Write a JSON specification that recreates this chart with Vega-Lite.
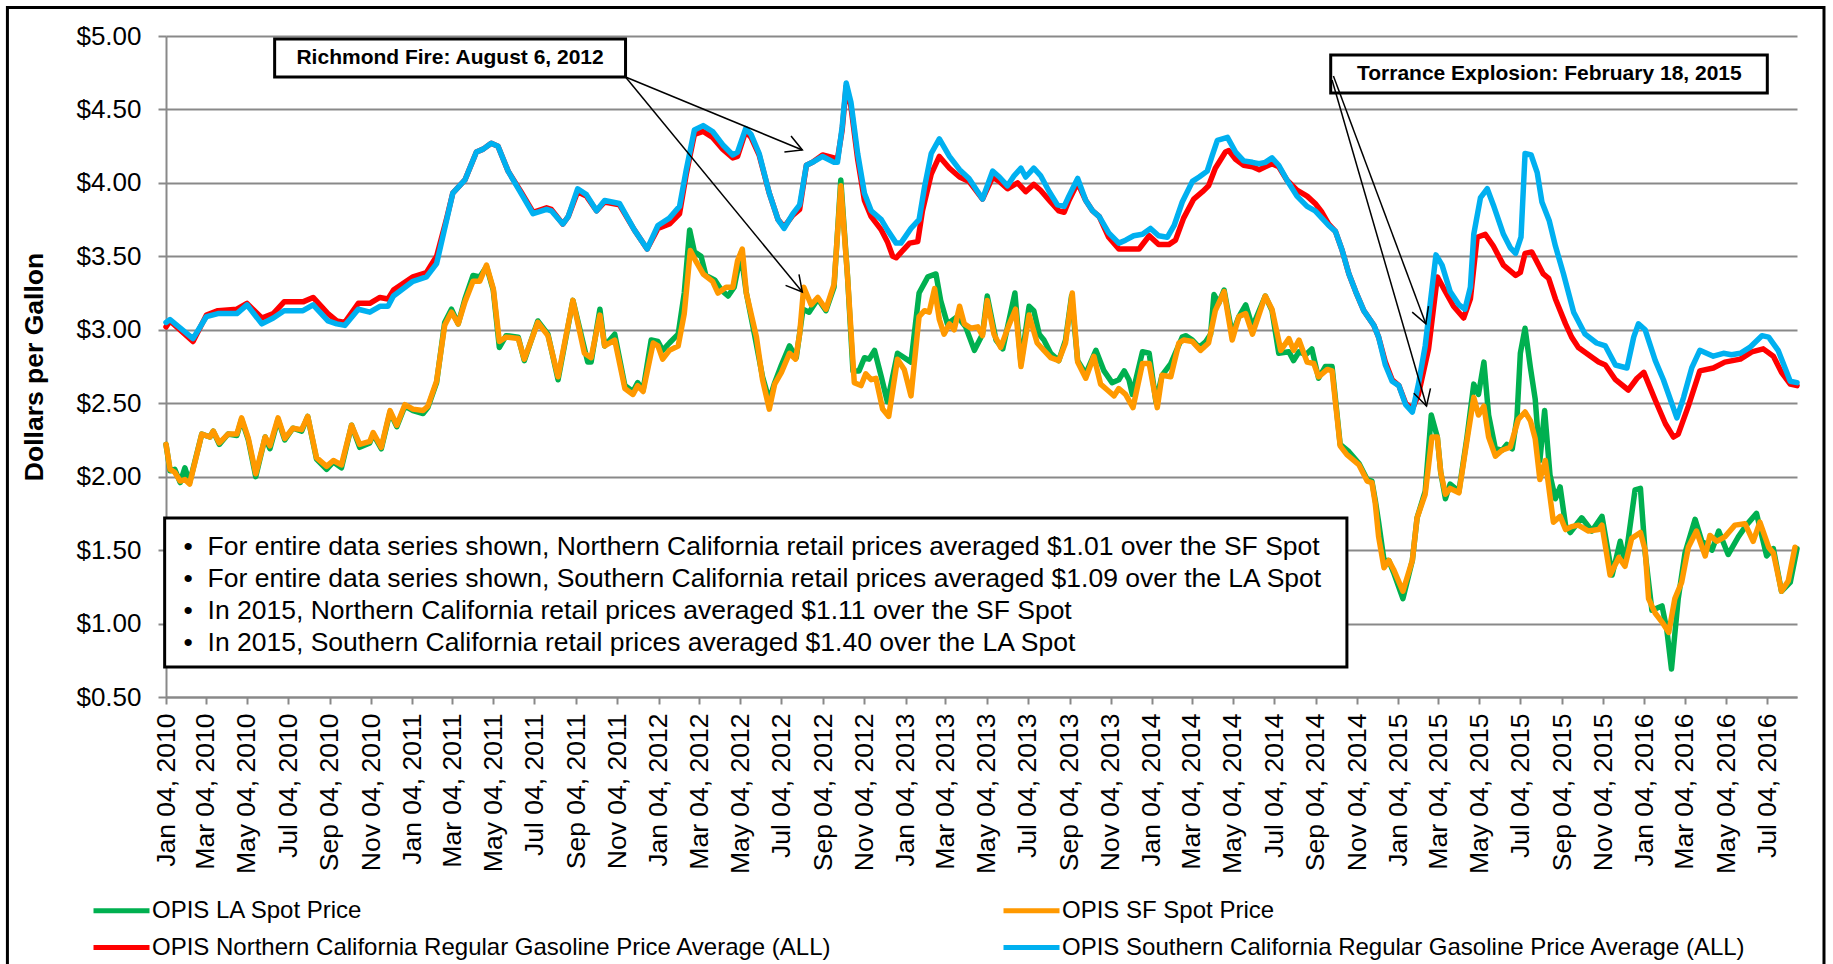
{
"$schema": "https://vega.github.io/schema/vega-lite/v6.json",
"width": 1631,
"height": 661,
"autosize": {"type": "none"},
"padding": {"left": 166, "top": 36, "right": 36, "bottom": 267},
"background": "white",
"config": {"view": {"stroke": null}, "font": "Liberation Sans"},
"datasets": {
"la": [
{"d":"2010-01-04","v":2.22},{"d":"2010-01-10","v":2.04},{"d":"2010-01-17","v":2.05},{"d":"2010-01-25","v":1.96},{"d":"2010-02-01","v":2.06},{"d":"2010-02-08","v":1.96},{"d":"2010-02-26","v":2.29},{"d":"2010-03-10","v":2.27},{"d":"2010-03-15","v":2.31},{"d":"2010-03-24","v":2.22},{"d":"2010-04-06","v":2.29},{"d":"2010-04-19","v":2.28},{"d":"2010-04-26","v":2.39},{"d":"2010-05-06","v":2.25},{"d":"2010-05-17","v":2.00},{"d":"2010-05-31","v":2.27},{"d":"2010-06-07","v":2.19},{"d":"2010-06-19","v":2.39},{"d":"2010-06-29","v":2.25},{"d":"2010-07-11","v":2.33},{"d":"2010-07-24","v":2.31},{"d":"2010-08-02","v":2.41},{"d":"2010-08-15","v":2.12},{"d":"2010-08-30","v":2.05},{"d":"2010-09-09","v":2.10},{"d":"2010-09-21","v":2.06},{"d":"2010-10-06","v":2.35},{"d":"2010-10-18","v":2.20},{"d":"2010-11-02","v":2.23},{"d":"2010-11-07","v":2.29},{"d":"2010-11-19","v":2.19},{"d":"2010-12-02","v":2.44},{"d":"2010-12-12","v":2.34},{"d":"2010-12-24","v":2.48},
{"d":"2011-01-05","v":2.45},{"d":"2011-01-20","v":2.43},{"d":"2011-01-27","v":2.47},{"d":"2011-02-09","v":2.64},{"d":"2011-02-21","v":3.05},{"d":"2011-03-03","v":3.14},{"d":"2011-03-13","v":3.04},{"d":"2011-03-23","v":3.21},{"d":"2011-04-04","v":3.37},{"d":"2011-04-14","v":3.36},{"d":"2011-04-24","v":3.43},{"d":"2011-05-04","v":3.27},{"d":"2011-05-13","v":2.88},{"d":"2011-05-23","v":2.96},{"d":"2011-06-10","v":2.95},{"d":"2011-06-19","v":2.79},{"d":"2011-07-09","v":3.06},{"d":"2011-07-24","v":2.97},{"d":"2011-08-08","v":2.66},{"d":"2011-08-30","v":3.20},{"d":"2011-09-21","v":2.78},{"d":"2011-09-26","v":2.78},{"d":"2011-10-09","v":3.14},{"d":"2011-10-16","v":2.89},{"d":"2011-10-31","v":2.97},{"d":"2011-11-15","v":2.62},{"d":"2011-11-27","v":2.58},{"d":"2011-12-04","v":2.64},{"d":"2011-12-12","v":2.59},{"d":"2011-12-24","v":2.93},
{"d":"2012-01-03","v":2.92},{"d":"2012-01-10","v":2.86},{"d":"2012-01-20","v":2.91},{"d":"2012-02-02","v":2.97},{"d":"2012-02-11","v":3.25},{"d":"2012-02-19","v":3.68},{"d":"2012-02-26","v":3.53},{"d":"2012-03-07","v":3.50},{"d":"2012-03-14","v":3.37},{"d":"2012-03-27","v":3.34},{"d":"2012-04-06","v":3.27},{"d":"2012-04-16","v":3.23},{"d":"2012-04-25","v":3.29},{"d":"2012-05-05","v":3.52},{"d":"2012-05-13","v":3.25},{"d":"2012-05-25","v":2.97},{"d":"2012-06-06","v":2.68},{"d":"2012-06-16","v":2.52},{"d":"2012-06-24","v":2.64},{"d":"2012-07-04","v":2.76},{"d":"2012-07-16","v":2.89},{"d":"2012-07-26","v":2.81},{"d":"2012-08-05","v":3.14},{"d":"2012-08-14","v":3.12},{"d":"2012-08-27","v":3.21},{"d":"2012-09-08","v":3.13},{"d":"2012-09-20","v":3.29},{"d":"2012-09-30","v":4.02},{"d":"2012-10-10","v":3.36},{"d":"2012-10-18","v":2.72},{"d":"2012-10-27","v":2.72},{"d":"2012-11-04","v":2.81},{"d":"2012-11-11","v":2.80},{"d":"2012-11-19","v":2.86},{"d":"2012-11-29","v":2.68},{"d":"2012-12-08","v":2.51},{"d":"2012-12-23","v":2.84},
{"d":"2013-01-12","v":2.78},{"d":"2013-01-24","v":3.25},{"d":"2013-02-06","v":3.36},{"d":"2013-02-18","v":3.38},{"d":"2013-02-25","v":3.20},{"d":"2013-03-07","v":3.04},{"d":"2013-03-22","v":3.09},{"d":"2013-04-03","v":3.02},{"d":"2013-04-16","v":2.86},{"d":"2013-04-28","v":2.97},{"d":"2013-05-05","v":3.23},{"d":"2013-05-18","v":2.93},{"d":"2013-05-28","v":2.87},{"d":"2013-06-06","v":3.06},{"d":"2013-06-15","v":3.25},{"d":"2013-06-24","v":2.77},{"d":"2013-07-06","v":3.16},{"d":"2013-07-13","v":3.13},{"d":"2013-07-21","v":2.97},{"d":"2013-07-28","v":2.93},{"d":"2013-08-07","v":2.84},{"d":"2013-08-19","v":2.79},{"d":"2013-08-29","v":2.93},{"d":"2013-09-07","v":3.23},{"d":"2013-09-16","v":2.79},{"d":"2013-09-28","v":2.70},{"d":"2013-10-13","v":2.86},{"d":"2013-10-25","v":2.72},{"d":"2013-11-06","v":2.64},{"d":"2013-11-16","v":2.66},{"d":"2013-11-24","v":2.72},{"d":"2013-12-01","v":2.66},{"d":"2013-12-06","v":2.56},{"d":"2013-12-21","v":2.85},{"d":"2013-12-31","v":2.84},
{"d":"2014-01-10","v":2.51},{"d":"2014-01-19","v":2.69},{"d":"2014-02-01","v":2.77},{"d":"2014-02-18","v":2.95},{"d":"2014-02-23","v":2.96},{"d":"2014-03-05","v":2.93},{"d":"2014-03-15","v":2.88},{"d":"2014-03-25","v":2.92},{"d":"2014-04-01","v":2.97},{"d":"2014-04-06","v":3.24},{"d":"2014-04-13","v":3.18},{"d":"2014-04-21","v":3.27},{"d":"2014-05-03","v":2.97},{"d":"2014-05-13","v":3.09},{"d":"2014-05-23","v":3.17},{"d":"2014-06-02","v":3.02},{"d":"2014-06-21","v":3.23},{"d":"2014-07-01","v":3.13},{"d":"2014-07-11","v":2.84},{"d":"2014-07-26","v":2.85},{"d":"2014-08-02","v":2.79},{"d":"2014-08-10","v":2.85},{"d":"2014-08-20","v":2.83},{"d":"2014-08-29","v":2.87},{"d":"2014-09-08","v":2.67},{"d":"2014-09-18","v":2.75},{"d":"2014-09-28","v":2.75},{"d":"2014-10-10","v":2.22},{"d":"2014-10-23","v":2.17},{"d":"2014-11-07","v":2.09},{"d":"2014-11-19","v":1.98},{"d":"2014-11-26","v":1.97},{"d":"2014-12-01","v":1.84},{"d":"2014-12-06","v":1.69},{"d":"2014-12-14","v":1.43},{"d":"2014-12-21","v":1.43},{"d":"2014-12-28","v":1.35},
{"d":"2015-01-11","v":1.17},{"d":"2015-01-25","v":1.43},{"d":"2015-02-01","v":1.72},{"d":"2015-02-13","v":1.90},{"d":"2015-02-22","v":2.42},{"d":"2015-03-03","v":2.27},{"d":"2015-03-08","v":2.03},{"d":"2015-03-15","v":1.85},{"d":"2015-03-22","v":1.95},{"d":"2015-04-04","v":1.90},{"d":"2015-04-16","v":2.27},{"d":"2015-04-26","v":2.63},{"d":"2015-05-03","v":2.56},{"d":"2015-05-11","v":2.78},{"d":"2015-05-18","v":2.42},{"d":"2015-05-28","v":2.19},{"d":"2015-06-07","v":2.18},{"d":"2015-06-14","v":2.22},{"d":"2015-06-22","v":2.19},{"d":"2015-06-29","v":2.40},{"d":"2015-07-04","v":2.84},{"d":"2015-07-11","v":3.01},{"d":"2015-07-19","v":2.74},{"d":"2015-07-26","v":2.53},{"d":"2015-08-02","v":2.11},{"d":"2015-08-09","v":2.45},{"d":"2015-08-17","v":2.01},{"d":"2015-08-25","v":1.85},{"d":"2015-09-01","v":1.93},{"d":"2015-09-09","v":1.67},{"d":"2015-09-16","v":1.62},{"d":"2015-10-03","v":1.72},{"d":"2015-10-18","v":1.63},{"d":"2015-11-02","v":1.73},{"d":"2015-11-17","v":1.33},{"d":"2015-11-29","v":1.56},{"d":"2015-12-06","v":1.41},{"d":"2015-12-21","v":1.91},{"d":"2015-12-29","v":1.92},
{"d":"2016-01-05","v":1.48},{"d":"2016-01-15","v":1.09},{"d":"2016-01-30","v":1.12},{"d":"2016-02-06","v":0.96},{"d":"2016-02-13","v":0.69},{"d":"2016-02-23","v":1.17},{"d":"2016-03-04","v":1.48},{"d":"2016-03-19","v":1.71},{"d":"2016-03-29","v":1.56},{"d":"2016-04-05","v":1.54},{"d":"2016-04-13","v":1.50},{"d":"2016-04-23","v":1.63},{"d":"2016-05-07","v":1.47},{"d":"2016-05-22","v":1.59},{"d":"2016-06-03","v":1.67},{"d":"2016-06-18","v":1.75},{"d":"2016-07-03","v":1.46},{"d":"2016-07-13","v":1.51},{"d":"2016-07-25","v":1.22},{"d":"2016-08-07","v":1.28},{"d":"2016-08-17","v":1.51}
],
"sf": [
{"d":"2010-01-04","v":2.22},{"d":"2010-01-10","v":2.05},{"d":"2010-01-17","v":2.03},{"d":"2010-01-25","v":1.97},{"d":"2010-02-01","v":1.98},{"d":"2010-02-08","v":1.95},{"d":"2010-02-26","v":2.29},{"d":"2010-03-10","v":2.27},{"d":"2010-03-15","v":2.31},{"d":"2010-03-24","v":2.23},{"d":"2010-04-06","v":2.29},{"d":"2010-04-19","v":2.29},{"d":"2010-04-26","v":2.40},{"d":"2010-05-06","v":2.26},{"d":"2010-05-17","v":2.02},{"d":"2010-05-31","v":2.27},{"d":"2010-06-07","v":2.21},{"d":"2010-06-19","v":2.40},{"d":"2010-06-29","v":2.26},{"d":"2010-07-11","v":2.33},{"d":"2010-07-24","v":2.32},{"d":"2010-08-02","v":2.41},{"d":"2010-08-15","v":2.13},{"d":"2010-08-30","v":2.07},{"d":"2010-09-09","v":2.11},{"d":"2010-09-21","v":2.08},{"d":"2010-10-06","v":2.35},{"d":"2010-10-18","v":2.22},{"d":"2010-11-02","v":2.24},{"d":"2010-11-07","v":2.30},{"d":"2010-11-19","v":2.20},{"d":"2010-12-02","v":2.45},{"d":"2010-12-12","v":2.35},{"d":"2010-12-24","v":2.49},
{"d":"2011-01-05","v":2.46},{"d":"2011-01-20","v":2.45},{"d":"2011-01-27","v":2.48},{"d":"2011-02-09","v":2.65},{"d":"2011-02-21","v":3.03},{"d":"2011-03-03","v":3.12},{"d":"2011-03-13","v":3.04},{"d":"2011-03-23","v":3.19},{"d":"2011-04-04","v":3.33},{"d":"2011-04-14","v":3.33},{"d":"2011-04-24","v":3.44},{"d":"2011-05-04","v":3.28},{"d":"2011-05-13","v":2.92},{"d":"2011-05-23","v":2.95},{"d":"2011-06-10","v":2.94},{"d":"2011-06-19","v":2.80},{"d":"2011-07-09","v":3.05},{"d":"2011-07-24","v":2.96},{"d":"2011-08-08","v":2.68},{"d":"2011-08-30","v":3.20},{"d":"2011-09-16","v":2.84},{"d":"2011-09-26","v":2.81},{"d":"2011-10-09","v":3.10},{"d":"2011-10-16","v":2.89},{"d":"2011-10-31","v":2.93},{"d":"2011-11-15","v":2.60},{"d":"2011-11-27","v":2.56},{"d":"2011-12-04","v":2.62},{"d":"2011-12-12","v":2.58},{"d":"2011-12-27","v":2.91},
{"d":"2012-01-03","v":2.89},{"d":"2012-01-10","v":2.80},{"d":"2012-01-20","v":2.86},{"d":"2012-02-02","v":2.89},{"d":"2012-02-11","v":3.11},{"d":"2012-02-20","v":3.54},{"d":"2012-02-29","v":3.46},{"d":"2012-03-10","v":3.38},{"d":"2012-03-24","v":3.33},{"d":"2012-04-01","v":3.25},{"d":"2012-04-13","v":3.29},{"d":"2012-04-23","v":3.29},{"d":"2012-04-30","v":3.47},{"d":"2012-05-07","v":3.55},{"d":"2012-05-13","v":3.25},{"d":"2012-05-28","v":2.95},{"d":"2012-06-06","v":2.66},{"d":"2012-06-16","v":2.46},{"d":"2012-06-24","v":2.63},{"d":"2012-07-04","v":2.71},{"d":"2012-07-16","v":2.84},{"d":"2012-07-25","v":2.80},{"d":"2012-07-31","v":2.97},{"d":"2012-08-06","v":3.29},{"d":"2012-08-17","v":3.17},{"d":"2012-08-27","v":3.22},{"d":"2012-09-08","v":3.14},{"d":"2012-09-20","v":3.31},{"d":"2012-09-30","v":3.98},{"d":"2012-10-10","v":3.36},{"d":"2012-10-20","v":2.64},{"d":"2012-10-30","v":2.62},{"d":"2012-11-06","v":2.70},{"d":"2012-11-14","v":2.66},{"d":"2012-11-21","v":2.67},{"d":"2012-12-01","v":2.46},{"d":"2012-12-10","v":2.41},{"d":"2012-12-23","v":2.80},
{"d":"2013-01-02","v":2.73},{"d":"2013-01-12","v":2.55},{"d":"2013-01-24","v":3.09},{"d":"2013-02-01","v":3.13},{"d":"2013-02-08","v":3.12},{"d":"2013-02-16","v":3.28},{"d":"2013-02-23","v":3.07},{"d":"2013-03-02","v":2.97},{"d":"2013-03-10","v":3.04},{"d":"2013-03-17","v":3.00},{"d":"2013-03-25","v":3.16},{"d":"2013-04-01","v":3.04},{"d":"2013-04-11","v":3.01},{"d":"2013-04-21","v":3.02},{"d":"2013-04-28","v":2.96},{"d":"2013-05-05","v":3.20},{"d":"2013-05-15","v":2.97},{"d":"2013-05-25","v":2.88},{"d":"2013-06-06","v":3.03},{"d":"2013-06-16","v":3.14},{"d":"2013-06-24","v":2.75},{"d":"2013-07-06","v":3.10},{"d":"2013-07-18","v":2.91},{"d":"2013-07-28","v":2.86},{"d":"2013-08-07","v":2.81},{"d":"2013-08-19","v":2.79},{"d":"2013-08-29","v":2.91},{"d":"2013-09-08","v":3.25},{"d":"2013-09-16","v":2.78},{"d":"2013-09-28","v":2.67},{"d":"2013-10-10","v":2.82},{"d":"2013-10-20","v":2.63},{"d":"2013-10-30","v":2.59},{"d":"2013-11-09","v":2.55},{"d":"2013-11-16","v":2.60},{"d":"2013-11-26","v":2.56},{"d":"2013-12-07","v":2.47},{"d":"2013-12-21","v":2.77},{"d":"2013-12-31","v":2.77},
{"d":"2014-01-12","v":2.47},{"d":"2014-01-19","v":2.69},{"d":"2014-02-01","v":2.68},{"d":"2014-02-13","v":2.91},{"d":"2014-02-20","v":2.93},{"d":"2014-03-05","v":2.92},{"d":"2014-03-17","v":2.86},{"d":"2014-03-29","v":2.91},{"d":"2014-04-08","v":3.13},{"d":"2014-04-21","v":3.26},{"d":"2014-05-03","v":2.93},{"d":"2014-05-13","v":3.09},{"d":"2014-05-23","v":3.11},{"d":"2014-06-02","v":2.97},{"d":"2014-06-21","v":3.23},{"d":"2014-07-01","v":3.14},{"d":"2014-07-14","v":2.86},{"d":"2014-07-26","v":2.94},{"d":"2014-08-02","v":2.86},{"d":"2014-08-10","v":2.93},{"d":"2014-08-22","v":2.78},{"d":"2014-09-01","v":2.77},{"d":"2014-09-08","v":2.68},{"d":"2014-09-21","v":2.73},{"d":"2014-09-28","v":2.72},{"d":"2014-10-10","v":2.21},{"d":"2014-10-20","v":2.15},{"d":"2014-11-07","v":2.08},{"d":"2014-11-19","v":1.97},{"d":"2014-11-26","v":1.96},{"d":"2014-12-01","v":1.82},{"d":"2014-12-06","v":1.59},{"d":"2014-12-14","v":1.38},{"d":"2014-12-21","v":1.43},{"d":"2014-12-28","v":1.37},
{"d":"2015-01-11","v":1.22},{"d":"2015-01-25","v":1.43},{"d":"2015-02-01","v":1.72},{"d":"2015-02-13","v":1.88},{"d":"2015-02-23","v":2.27},{"d":"2015-03-03","v":2.27},{"d":"2015-03-08","v":2.03},{"d":"2015-03-15","v":1.88},{"d":"2015-03-22","v":1.92},{"d":"2015-04-04","v":1.89},{"d":"2015-04-13","v":2.16},{"d":"2015-04-26","v":2.54},{"d":"2015-05-03","v":2.42},{"d":"2015-05-11","v":2.48},{"d":"2015-05-18","v":2.27},{"d":"2015-05-28","v":2.14},{"d":"2015-06-07","v":2.18},{"d":"2015-06-19","v":2.20},{"d":"2015-07-01","v":2.39},{"d":"2015-07-11","v":2.44},{"d":"2015-07-19","v":2.38},{"d":"2015-07-26","v":2.26},{"d":"2015-08-02","v":1.98},{"d":"2015-08-10","v":2.11},{"d":"2015-08-22","v":1.69},{"d":"2015-09-01","v":1.73},{"d":"2015-09-09","v":1.64},{"d":"2015-09-18","v":1.66},{"d":"2015-09-28","v":1.67},{"d":"2015-10-13","v":1.63},{"d":"2015-10-28","v":1.64},{"d":"2015-11-02","v":1.67},{"d":"2015-11-14","v":1.33},{"d":"2015-11-27","v":1.45},{"d":"2015-12-06","v":1.39},{"d":"2015-12-16","v":1.58},{"d":"2015-12-29","v":1.62},
{"d":"2016-01-05","v":1.50},{"d":"2016-01-10","v":1.17},{"d":"2016-01-20","v":1.07},{"d":"2016-01-30","v":1.01},{"d":"2016-02-09","v":0.94},{"d":"2016-02-18","v":1.17},{"d":"2016-02-28","v":1.28},{"d":"2016-03-09","v":1.52},{"d":"2016-03-21","v":1.63},{"d":"2016-04-03","v":1.46},{"d":"2016-04-10","v":1.60},{"d":"2016-04-20","v":1.56},{"d":"2016-05-02","v":1.59},{"d":"2016-05-17","v":1.67},{"d":"2016-06-01","v":1.68},{"d":"2016-06-13","v":1.56},{"d":"2016-06-23","v":1.69},{"d":"2016-07-06","v":1.52},{"d":"2016-07-13","v":1.48},{"d":"2016-07-25","v":1.22},{"d":"2016-08-04","v":1.29},{"d":"2016-08-14","v":1.52}
],
"n": [
{"d":"2010-01-04","v":3.02},{"d":"2010-01-10","v":3.06},{"d":"2010-02-13","v":2.92},{"d":"2010-03-05","v":3.10},{"d":"2010-03-22","v":3.13},{"d":"2010-04-19","v":3.14},{"d":"2010-05-04","v":3.18},{"d":"2010-05-26","v":3.08},{"d":"2010-06-12","v":3.11},{"d":"2010-06-28","v":3.19},{"d":"2010-07-26","v":3.19},{"d":"2010-08-10","v":3.22},{"d":"2010-09-01","v":3.11},{"d":"2010-09-14","v":3.06},{"d":"2010-09-26","v":3.05},{"d":"2010-10-16","v":3.18},{"d":"2010-11-02","v":3.18},{"d":"2010-11-17","v":3.22},{"d":"2010-11-29","v":3.21},{"d":"2010-12-07","v":3.27},
{"d":"2011-01-05","v":3.36},{"d":"2011-01-25","v":3.39},{"d":"2011-02-09","v":3.50},{"d":"2011-02-24","v":3.76},{"d":"2011-03-05","v":3.93},{"d":"2011-03-23","v":4.02},{"d":"2011-04-09","v":4.21},{"d":"2011-04-19","v":4.23},{"d":"2011-05-01","v":4.27},{"d":"2011-05-11","v":4.25},{"d":"2011-05-26","v":4.08},{"d":"2011-06-14","v":3.94},{"d":"2011-07-02","v":3.80},{"d":"2011-07-22","v":3.83},{"d":"2011-07-29","v":3.82},{"d":"2011-08-15","v":3.72},{"d":"2011-08-23","v":3.77},{"d":"2011-09-06","v":3.94},{"d":"2011-09-19","v":3.91},{"d":"2011-10-04","v":3.81},{"d":"2011-10-16","v":3.87},{"d":"2011-11-07","v":3.85},{"d":"2011-11-29","v":3.68},{"d":"2011-12-18","v":3.55},
{"d":"2012-01-03","v":3.69},{"d":"2012-01-20","v":3.72},{"d":"2012-02-04","v":3.79},{"d":"2012-02-14","v":4.06},{"d":"2012-02-26","v":4.33},{"d":"2012-03-10","v":4.35},{"d":"2012-03-24","v":4.31},{"d":"2012-04-08","v":4.23},{"d":"2012-04-23","v":4.17},{"d":"2012-04-30","v":4.18},{"d":"2012-05-12","v":4.35},{"d":"2012-05-20","v":4.31},{"d":"2012-06-01","v":4.19},{"d":"2012-06-16","v":3.93},{"d":"2012-06-29","v":3.75},{"d":"2012-07-08","v":3.70},{"d":"2012-07-21","v":3.78},{"d":"2012-07-31","v":3.82},{"d":"2012-08-10","v":4.12},{"d":"2012-08-19","v":4.14},{"d":"2012-09-03","v":4.19},{"d":"2012-09-20","v":4.17},{"d":"2012-09-25","v":4.16},{"d":"2012-10-02","v":4.36},{"d":"2012-10-08","v":4.66},{"d":"2012-10-15","v":4.52},{"d":"2012-10-25","v":4.16},{"d":"2012-11-04","v":3.88},{"d":"2012-11-14","v":3.77},{"d":"2012-11-29","v":3.68},{"d":"2012-12-08","v":3.60},{"d":"2012-12-16","v":3.50},{"d":"2012-12-21","v":3.49},{"d":"2012-12-31","v":3.54},
{"d":"2013-01-10","v":3.59},{"d":"2013-01-22","v":3.60},{"d":"2013-01-29","v":3.81},{"d":"2013-02-11","v":4.06},{"d":"2013-02-23","v":4.18},{"d":"2013-03-10","v":4.10},{"d":"2013-03-25","v":4.04},{"d":"2013-04-08","v":4.01},{"d":"2013-04-28","v":3.89},{"d":"2013-05-13","v":4.04},{"d":"2013-05-23","v":4.01},{"d":"2013-06-04","v":3.96},{"d":"2013-06-19","v":4.00},{"d":"2013-07-01","v":3.94},{"d":"2013-07-13","v":3.99},{"d":"2013-07-23","v":3.95},{"d":"2013-08-07","v":3.87},{"d":"2013-08-19","v":3.81},{"d":"2013-08-27","v":3.80},{"d":"2013-09-03","v":3.88},{"d":"2013-09-16","v":4.00},{"d":"2013-09-28","v":3.88},{"d":"2013-10-08","v":3.81},{"d":"2013-10-18","v":3.77},{"d":"2013-11-01","v":3.63},{"d":"2013-11-16","v":3.55},{"d":"2013-12-01","v":3.55},{"d":"2013-12-16","v":3.55},{"d":"2013-12-31","v":3.64},
{"d":"2014-01-14","v":3.58},{"d":"2014-01-29","v":3.58},{"d":"2014-02-08","v":3.61},{"d":"2014-02-20","v":3.76},{"d":"2014-03-07","v":3.89},{"d":"2014-03-20","v":3.94},{"d":"2014-03-29","v":3.98},{"d":"2014-04-08","v":4.10},{"d":"2014-04-23","v":4.21},{"d":"2014-04-28","v":4.22},{"d":"2014-05-08","v":4.16},{"d":"2014-05-20","v":4.12},{"d":"2014-06-02","v":4.11},{"d":"2014-06-12","v":4.09},{"d":"2014-06-21","v":4.11},{"d":"2014-07-01","v":4.13},{"d":"2014-07-11","v":4.11},{"d":"2014-07-23","v":4.02},{"d":"2014-08-07","v":3.95},{"d":"2014-08-22","v":3.91},{"d":"2014-09-03","v":3.86},{"d":"2014-09-13","v":3.80},{"d":"2014-09-23","v":3.72},{"d":"2014-10-03","v":3.67},{"d":"2014-10-13","v":3.54},{"d":"2014-10-23","v":3.38},{"d":"2014-11-02","v":3.26},{"d":"2014-11-14","v":3.13},{"d":"2014-11-29","v":3.03},{"d":"2014-12-06","v":2.95},{"d":"2014-12-16","v":2.78},{"d":"2014-12-26","v":2.66},
{"d":"2015-01-05","v":2.62},{"d":"2015-01-15","v":2.50},{"d":"2015-01-25","v":2.46},{"d":"2015-02-03","v":2.56},{"d":"2015-02-18","v":2.87},{"d":"2015-03-03","v":3.36},{"d":"2015-03-15","v":3.26},{"d":"2015-03-27","v":3.16},{"d":"2015-04-11","v":3.08},{"d":"2015-04-21","v":3.21},{"d":"2015-05-01","v":3.63},{"d":"2015-05-13","v":3.65},{"d":"2015-05-25","v":3.57},{"d":"2015-06-09","v":3.44},{"d":"2015-06-27","v":3.37},{"d":"2015-07-04","v":3.39},{"d":"2015-07-11","v":3.52},{"d":"2015-07-21","v":3.53},{"d":"2015-08-07","v":3.38},{"d":"2015-08-15","v":3.35},{"d":"2015-08-25","v":3.21},{"d":"2015-09-09","v":3.04},{"d":"2015-09-18","v":2.95},{"d":"2015-09-28","v":2.88},{"d":"2015-10-13","v":2.83},{"d":"2015-10-28","v":2.78},{"d":"2015-11-07","v":2.76},{"d":"2015-11-22","v":2.66},{"d":"2015-12-11","v":2.59},{"d":"2015-12-24","v":2.67},
{"d":"2016-01-03","v":2.71},{"d":"2016-01-20","v":2.52},{"d":"2016-02-04","v":2.36},{"d":"2016-02-16","v":2.27},{"d":"2016-02-23","v":2.29},{"d":"2016-03-09","v":2.48},{"d":"2016-03-26","v":2.72},{"d":"2016-04-15","v":2.74},{"d":"2016-05-02","v":2.78},{"d":"2016-05-25","v":2.80},{"d":"2016-06-11","v":2.85},{"d":"2016-06-28","v":2.87},{"d":"2016-07-13","v":2.82},{"d":"2016-07-25","v":2.71},{"d":"2016-08-07","v":2.63},{"d":"2016-08-17","v":2.62}
],
"s": [
{"d":"2010-01-04","v":3.05},{"d":"2010-01-10","v":3.07},{"d":"2010-02-13","v":2.94},{"d":"2010-03-05","v":3.09},{"d":"2010-03-22","v":3.11},{"d":"2010-04-19","v":3.11},{"d":"2010-05-04","v":3.17},{"d":"2010-05-26","v":3.04},{"d":"2010-06-12","v":3.08},{"d":"2010-06-28","v":3.13},{"d":"2010-07-26","v":3.13},{"d":"2010-08-10","v":3.17},{"d":"2010-09-01","v":3.06},{"d":"2010-09-14","v":3.04},{"d":"2010-09-26","v":3.03},{"d":"2010-10-16","v":3.14},{"d":"2010-11-02","v":3.12},{"d":"2010-11-17","v":3.16},{"d":"2010-11-29","v":3.16},{"d":"2010-12-07","v":3.23},
{"d":"2011-01-05","v":3.33},{"d":"2011-01-25","v":3.36},{"d":"2011-02-09","v":3.45},{"d":"2011-02-24","v":3.75},{"d":"2011-03-05","v":3.93},{"d":"2011-03-23","v":4.02},{"d":"2011-04-09","v":4.21},{"d":"2011-04-19","v":4.23},{"d":"2011-05-01","v":4.27},{"d":"2011-05-11","v":4.25},{"d":"2011-05-26","v":4.08},{"d":"2011-06-14","v":3.93},{"d":"2011-07-02","v":3.79},{"d":"2011-07-22","v":3.82},{"d":"2011-07-29","v":3.81},{"d":"2011-08-15","v":3.72},{"d":"2011-08-23","v":3.77},{"d":"2011-09-06","v":3.96},{"d":"2011-09-19","v":3.92},{"d":"2011-10-04","v":3.81},{"d":"2011-10-16","v":3.88},{"d":"2011-11-07","v":3.86},{"d":"2011-11-29","v":3.68},{"d":"2011-12-18","v":3.55},
{"d":"2012-01-03","v":3.71},{"d":"2012-01-20","v":3.76},{"d":"2012-02-04","v":3.84},{"d":"2012-02-14","v":4.09},{"d":"2012-02-26","v":4.36},{"d":"2012-03-10","v":4.39},{"d":"2012-03-24","v":4.35},{"d":"2012-04-08","v":4.26},{"d":"2012-04-23","v":4.19},{"d":"2012-04-30","v":4.21},{"d":"2012-05-12","v":4.37},{"d":"2012-05-20","v":4.33},{"d":"2012-06-01","v":4.20},{"d":"2012-06-16","v":3.93},{"d":"2012-06-29","v":3.75},{"d":"2012-07-08","v":3.69},{"d":"2012-07-21","v":3.79},{"d":"2012-07-31","v":3.85},{"d":"2012-08-10","v":4.12},{"d":"2012-08-19","v":4.14},{"d":"2012-09-03","v":4.18},{"d":"2012-09-20","v":4.14},{"d":"2012-09-25","v":4.14},{"d":"2012-10-02","v":4.38},{"d":"2012-10-08","v":4.68},{"d":"2012-10-15","v":4.55},{"d":"2012-10-25","v":4.20},{"d":"2012-11-04","v":3.93},{"d":"2012-11-14","v":3.81},{"d":"2012-11-29","v":3.75},{"d":"2012-12-08","v":3.68},{"d":"2012-12-21","v":3.59},{"d":"2012-12-28","v":3.59},
{"d":"2013-01-12","v":3.69},{"d":"2013-01-24","v":3.75},{"d":"2013-02-01","v":3.97},{"d":"2013-02-11","v":4.20},{"d":"2013-02-23","v":4.30},{"d":"2013-03-10","v":4.18},{"d":"2013-03-25","v":4.09},{"d":"2013-04-08","v":4.03},{"d":"2013-04-28","v":3.89},{"d":"2013-05-13","v":4.08},{"d":"2013-05-23","v":4.04},{"d":"2013-06-04","v":3.98},{"d":"2013-06-14","v":4.05},{"d":"2013-06-24","v":4.10},{"d":"2013-07-01","v":4.04},{"d":"2013-07-13","v":4.10},{"d":"2013-07-23","v":4.05},{"d":"2013-08-05","v":3.94},{"d":"2013-08-17","v":3.85},{"d":"2013-08-27","v":3.84},{"d":"2013-09-03","v":3.91},{"d":"2013-09-16","v":4.03},{"d":"2013-09-28","v":3.88},{"d":"2013-10-08","v":3.81},{"d":"2013-10-18","v":3.77},{"d":"2013-11-01","v":3.66},{"d":"2013-11-16","v":3.59},{"d":"2013-11-26","v":3.61},{"d":"2013-12-08","v":3.64},{"d":"2013-12-21","v":3.65},
{"d":"2014-01-02","v":3.69},{"d":"2014-01-14","v":3.64},{"d":"2014-01-27","v":3.63},{"d":"2014-02-06","v":3.71},{"d":"2014-02-18","v":3.87},{"d":"2014-03-05","v":4.01},{"d":"2014-03-15","v":4.04},{"d":"2014-03-27","v":4.08},{"d":"2014-04-03","v":4.18},{"d":"2014-04-11","v":4.29},{"d":"2014-04-26","v":4.31},{"d":"2014-05-08","v":4.21},{"d":"2014-05-20","v":4.15},{"d":"2014-06-02","v":4.14},{"d":"2014-06-12","v":4.13},{"d":"2014-06-21","v":4.14},{"d":"2014-07-01","v":4.17},{"d":"2014-07-11","v":4.12},{"d":"2014-07-23","v":4.02},{"d":"2014-08-07","v":3.91},{"d":"2014-08-22","v":3.84},{"d":"2014-09-03","v":3.81},{"d":"2014-09-13","v":3.76},{"d":"2014-09-23","v":3.71},{"d":"2014-10-03","v":3.67},{"d":"2014-10-13","v":3.54},{"d":"2014-10-23","v":3.38},{"d":"2014-11-02","v":3.26},{"d":"2014-11-14","v":3.13},{"d":"2014-11-29","v":3.03},{"d":"2014-12-06","v":2.95},{"d":"2014-12-16","v":2.76},{"d":"2014-12-26","v":2.65},
{"d":"2015-01-05","v":2.62},{"d":"2015-01-15","v":2.49},{"d":"2015-01-25","v":2.44},{"d":"2015-02-03","v":2.63},{"d":"2015-02-13","v":2.89},{"d":"2015-03-01","v":3.51},{"d":"2015-03-10","v":3.44},{"d":"2015-03-22","v":3.26},{"d":"2015-04-04","v":3.17},{"d":"2015-04-13","v":3.14},{"d":"2015-04-21","v":3.29},{"d":"2015-04-26","v":3.65},{"d":"2015-05-06","v":3.90},{"d":"2015-05-16","v":3.96},{"d":"2015-05-25","v":3.85},{"d":"2015-06-09","v":3.65},{"d":"2015-06-19","v":3.56},{"d":"2015-06-27","v":3.52},{"d":"2015-07-05","v":3.63},{"d":"2015-07-11","v":4.20},{"d":"2015-07-20","v":4.19},{"d":"2015-07-29","v":4.07},{"d":"2015-08-05","v":3.87},{"d":"2015-08-16","v":3.74},{"d":"2015-08-25","v":3.57},{"d":"2015-09-06","v":3.38},{"d":"2015-09-21","v":3.12},{"d":"2015-10-08","v":2.97},{"d":"2015-10-25","v":2.91},{"d":"2015-11-07","v":2.89},{"d":"2015-11-22","v":2.76},{"d":"2015-12-09","v":2.74},{"d":"2015-12-19","v":2.95},{"d":"2015-12-26","v":3.04},
{"d":"2016-01-05","v":3.00},{"d":"2016-01-20","v":2.79},{"d":"2016-02-01","v":2.66},{"d":"2016-02-21","v":2.40},{"d":"2016-03-02","v":2.54},{"d":"2016-03-14","v":2.74},{"d":"2016-03-26","v":2.86},{"d":"2016-04-15","v":2.82},{"d":"2016-04-30","v":2.84},{"d":"2016-05-12","v":2.83},{"d":"2016-05-25","v":2.84},{"d":"2016-06-08","v":2.88},{"d":"2016-06-26","v":2.96},{"d":"2016-07-06","v":2.95},{"d":"2016-07-20","v":2.86},{"d":"2016-08-07","v":2.65},{"d":"2016-08-17","v":2.64}
]
},
"layer": [
{"data": {"name": "la"},
 "mark": {"type": "line", "strokeWidth": 5.5, "strokeJoin": "round", "strokeCap": "round"},
 "encoding": {
  "x": {"field": "d", "type": "temporal",
   "scale": {"type": "utc", "nice": false, "domain": [{"year":2010,"month":1,"date":4,"utc":true},{"year":2016,"month":8,"date":17,"utc":true}]},
   "axis": {"title": null, "grid": false, "format": "%b %d, %Y",
    "values": [{"year":2010,"month":1,"date":4,"utc":true},{"year":2010,"month":3,"date":4,"utc":true},{"year":2010,"month":5,"date":4,"utc":true},{"year":2010,"month":7,"date":4,"utc":true},{"year":2010,"month":9,"date":4,"utc":true},{"year":2010,"month":11,"date":4,"utc":true},
     {"year":2011,"month":1,"date":4,"utc":true},{"year":2011,"month":3,"date":4,"utc":true},{"year":2011,"month":5,"date":4,"utc":true},{"year":2011,"month":7,"date":4,"utc":true},{"year":2011,"month":9,"date":4,"utc":true},{"year":2011,"month":11,"date":4,"utc":true},
     {"year":2012,"month":1,"date":4,"utc":true},{"year":2012,"month":3,"date":4,"utc":true},{"year":2012,"month":5,"date":4,"utc":true},{"year":2012,"month":7,"date":4,"utc":true},{"year":2012,"month":9,"date":4,"utc":true},{"year":2012,"month":11,"date":4,"utc":true},
     {"year":2013,"month":1,"date":4,"utc":true},{"year":2013,"month":3,"date":4,"utc":true},{"year":2013,"month":5,"date":4,"utc":true},{"year":2013,"month":7,"date":4,"utc":true},{"year":2013,"month":9,"date":4,"utc":true},{"year":2013,"month":11,"date":4,"utc":true},
     {"year":2014,"month":1,"date":4,"utc":true},{"year":2014,"month":3,"date":4,"utc":true},{"year":2014,"month":5,"date":4,"utc":true},{"year":2014,"month":7,"date":4,"utc":true},{"year":2014,"month":9,"date":4,"utc":true},{"year":2014,"month":11,"date":4,"utc":true},
     {"year":2015,"month":1,"date":4,"utc":true},{"year":2015,"month":3,"date":4,"utc":true},{"year":2015,"month":5,"date":4,"utc":true},{"year":2015,"month":7,"date":4,"utc":true},{"year":2015,"month":9,"date":4,"utc":true},{"year":2015,"month":11,"date":4,"utc":true},
     {"year":2016,"month":1,"date":4,"utc":true},{"year":2016,"month":3,"date":4,"utc":true},{"year":2016,"month":5,"date":4,"utc":true},{"year":2016,"month":7,"date":4,"utc":true}],
    "labelAngle": 270, "labelAlign": "right", "labelBaseline": "middle", "labelFontSize": 26.5, "labelColor": "black",
    "labelPadding": 9, "labelOverlap": false, "labelFlush": false, "labelBound": false,
    "tickSize": 7, "tickColor": "#898989", "tickWidth": 2, "domainColor": "#898989", "domainWidth": 2}},
  "y": {"field": "v", "type": "quantitative",
   "scale": {"domain": [0.5, 5], "nice": false, "zero": false},
   "axis": {"title": "Dollars per Gallon", "titleFontSize": 26.5, "titleFontWeight": "bold", "titleColor": "black", "titlePadding": 27,
    "values": [0.5,1,1.5,2,2.5,3,3.5,4,4.5,5], "format": "$.2f", "labelFontSize": 26, "labelColor": "black", "labelPadding": 17,
    "tickSize": 8, "tickColor": "#898989", "tickWidth": 2, "domainColor": "#898989", "domainWidth": 2,
    "gridColor": "#898989", "gridWidth": 2, "gridOpacity": 1}},
  "color": {"datum": "OPIS LA Spot Price",
   "scale": {"domain": ["OPIS LA Spot Price","OPIS SF Spot Price","OPIS Northern California Regular Gasoline Price Average (ALL)","OPIS Southern California Regular Gasoline Price Average (ALL)"],
             "range": ["#00B050","#FF9900","#FF0000","#00B0F0"]},
   "legend": {"title": null, "orient": "none", "legendX": -61, "legendY": 858, "columns": 2, "direction": "horizontal",
    "symbolType": "M-2,0L2,0", "symbolSize": 784, "symbolStrokeWidth": 5, "labelFontSize": 24, "labelColor": "black",
    "labelLimit": 1000, "labelOffset": 14, "columnPadding": 161, "rowPadding": 8, "padding": 0}}}},
{"data": {"name": "sf"},
 "mark": {"type": "line", "strokeWidth": 5.5, "strokeJoin": "round", "strokeCap": "round"},
 "encoding": {"x": {"field": "d", "type": "temporal"}, "y": {"field": "v", "type": "quantitative"}, "color": {"datum": "OPIS SF Spot Price"}}},
{"data": {"name": "n"},
 "mark": {"type": "line", "strokeWidth": 5.5, "strokeJoin": "round", "strokeCap": "round"},
 "encoding": {"x": {"field": "d", "type": "temporal"}, "y": {"field": "v", "type": "quantitative"}, "color": {"datum": "OPIS Northern California Regular Gasoline Price Average (ALL)"}}},
{"data": {"name": "s"},
 "mark": {"type": "line", "strokeWidth": 5.5, "strokeJoin": "round", "strokeCap": "round"},
 "encoding": {"x": {"field": "d", "type": "temporal"}, "y": {"field": "v", "type": "quantitative"}, "color": {"datum": "OPIS Southern California Regular Gasoline Price Average (ALL)"}}},
{"data": {"values": [{}]},
 "mark": {"type": "rect", "filled": false, "stroke": "black", "strokeWidth": 3},
 "encoding": {"x": {"datum": {"year":2009,"month":5,"date":14,"utc":true}, "type": "temporal"},
  "x2": {"datum": {"year":2016,"month":9,"date":26,"utc":true}},
  "y": {"datum": 5.194, "type": "quantitative"}, "y2": {"datum": -1.4}}},
{"data": {"values": [{}]},
 "mark": {"type": "rect", "fill": "white", "stroke": "black", "strokeWidth": 3},
 "encoding": {"x": {"datum": {"year":2010,"month":1,"date":2,"utc":true}, "type": "temporal"},
  "x2": {"datum": {"year":2014,"month":10,"date":20,"utc":true}},
  "y": {"datum": 1.719, "type": "quantitative"}, "y2": {"datum": 0.705}}},
{"data": {"values": [{}]},
 "mark": {"type": "text", "align": "left", "baseline": "middle", "fontSize": 26.5, "lineHeight": 32, "color": "black",
  "text": ["•\u00a0\u00a0For entire data series shown, Northern California retail prices averaged $1.01 over the SF Spot",
           "•\u00a0\u00a0For entire data series shown, Southern California retail prices averaged $1.09 over the LA Spot",
           "•\u00a0\u00a0In 2015, Northern California retail prices averaged $1.11 over the SF Spot",
           "•\u00a0\u00a0In 2015, Southern California retail prices averaged $1.40 over the LA Spot"]},
 "encoding": {"x": {"datum": {"year":2010,"month":1,"date":30,"utc":true}, "type": "temporal"},
  "y": {"datum": 1.521, "type": "quantitative"}}},
{"data": {"values": [{}]},
 "mark": {"type": "rect", "fill": "white", "stroke": "black", "strokeWidth": 3},
 "encoding": {"x": {"datum": {"year":2010,"month":6,"date":14,"utc":true}, "type": "temporal"},
  "x2": {"datum": {"year":2011,"month":11,"date":16,"utc":true}},
  "y": {"datum": 4.98, "type": "quantitative"}, "y2": {"datum": 4.721}}},
{"data": {"values": [{}]},
 "mark": {"type": "text", "text": "Richmond Fire: August 6, 2012", "fontSize": 21, "fontWeight": "bold", "align": "center", "baseline": "middle", "color": "black"},
 "encoding": {"x": {"datum": {"year":2011,"month":3,"date":1,"utc":true}, "type": "temporal"},
  "y": {"datum": 4.85, "type": "quantitative"}}},
{"data": {"values": [{}]},
 "mark": {"type": "rect", "fill": "white", "stroke": "black", "strokeWidth": 3},
 "encoding": {"x": {"datum": {"year":2014,"month":9,"date":26,"utc":true}, "type": "temporal"},
  "x2": {"datum": {"year":2016,"month":7,"date":4,"utc":true}},
  "y": {"datum": 4.871, "type": "quantitative"}, "y2": {"datum": 4.612}}},
{"data": {"values": [{}]},
 "mark": {"type": "text", "text": "Torrance Explosion: February 18, 2015", "fontSize": 21, "fontWeight": "bold", "align": "center", "baseline": "middle", "color": "black"},
 "encoding": {"x": {"datum": {"year":2015,"month":8,"date":16,"utc":true}, "type": "temporal"},
  "y": {"datum": 4.741, "type": "quantitative"}}},
{"data": {"values": [{}]},
 "mark": {"type": "rule", "color": "black", "strokeWidth": 1.5},
 "encoding": {"x": {"datum": {"year":2011,"month":11,"date":16,"utc":true}, "type": "temporal"}, "y": {"datum": 4.721, "type": "quantitative"},
  "x2": {"datum": {"year":2012,"month":8,"date":4,"utc":true}}, "y2": {"datum": 4.224}}},
{"data": {"values": [{}]},
 "mark": {"type": "rule", "color": "black", "strokeWidth": 1.5},
 "encoding": {"x": {"datum": {"year":2011,"month":11,"date":16,"utc":true}, "type": "temporal"}, "y": {"datum": 4.721, "type": "quantitative"},
  "x2": {"datum": {"year":2012,"month":8,"date":4,"utc":true}}, "y2": {"datum": 3.257}}},
{"data": {"values": [{}]},
 "mark": {"type": "rule", "color": "black", "strokeWidth": 1.5},
 "encoding": {"x": {"datum": {"year":2014,"month":9,"date":30,"utc":true}, "type": "temporal"}, "y": {"datum": 4.728, "type": "quantitative"},
  "x2": {"datum": {"year":2015,"month":2,"date":14,"utc":true}}, "y2": {"datum": 3.04}}},
{"data": {"values": [{}]},
 "mark": {"type": "rule", "color": "black", "strokeWidth": 1.5},
 "encoding": {"x": {"datum": {"year":2014,"month":9,"date":28,"utc":true}, "type": "temporal"}, "y": {"datum": 4.70, "type": "quantitative"},
  "x2": {"datum": {"year":2015,"month":2,"date":15,"utc":true}}, "y2": {"datum": 2.481}}},
{"data": {"values": [{}]},
 "mark": {"type": "point", "shape": "M-1,-0.55L0,0L-1,0.55", "filled": false, "stroke": "black", "strokeWidth": 1.5, "size": 1000, "angle": 22.4, "opacity": 1},
 "encoding": {"x": {"datum": {"year":2012,"month":8,"date":4,"utc":true}, "type": "temporal"}, "y": {"datum": 4.224, "type": "quantitative"}}},
{"data": {"values": [{}]},
 "mark": {"type": "point", "shape": "M-1,-0.55L0,0L-1,0.55", "filled": false, "stroke": "black", "strokeWidth": 1.5, "size": 1000, "angle": 50.5, "opacity": 1},
 "encoding": {"x": {"datum": {"year":2012,"month":8,"date":4,"utc":true}, "type": "temporal"}, "y": {"datum": 3.257, "type": "quantitative"}}},
{"data": {"values": [{}]},
 "mark": {"type": "point", "shape": "M-1,-0.55L0,0L-1,0.55", "filled": false, "stroke": "black", "strokeWidth": 1.5, "size": 1000, "angle": 69.6, "opacity": 1},
 "encoding": {"x": {"datum": {"year":2015,"month":2,"date":14,"utc":true}, "type": "temporal"}, "y": {"datum": 3.04, "type": "quantitative"}}},
{"data": {"values": [{}]},
 "mark": {"type": "point", "shape": "M-1,-0.55L0,0L-1,0.55", "filled": false, "stroke": "black", "strokeWidth": 1.5, "size": 1000, "angle": 73.8, "opacity": 1},
 "encoding": {"x": {"datum": {"year":2015,"month":2,"date":15,"utc":true}, "type": "temporal"}, "y": {"datum": 2.481, "type": "quantitative"}}}
]
}
